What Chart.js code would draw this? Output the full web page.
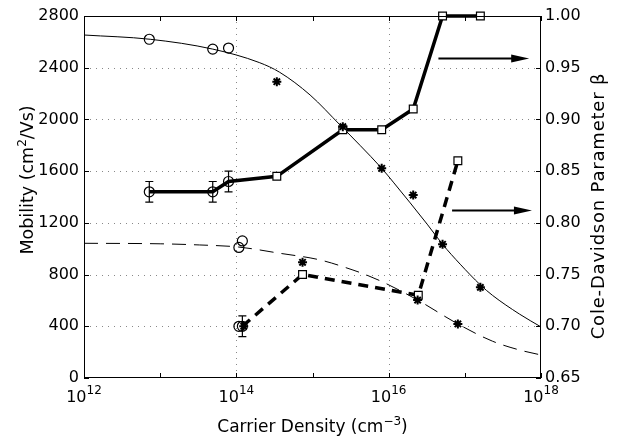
<!DOCTYPE html>
<html>
<head>
<meta charset="utf-8">
<script src="https://cdn.jsdelivr.net/npm/chart.js@4.4.1/dist/chart.umd.min.js"></script>
<style>
  html, body { margin: 0; padding: 0; background: #fff; }
</style>
</head>
<body>
<canvas id="chart" width="617" height="441"></canvas>
<script>
"use strict";

const FONT = '"DejaVu Sans", sans-serif';

// x axis: carrier density decades, labels only on even exponents
const X_DECADES = [1e12, 1e13, 1e14, 1e15, 1e16, 1e17, 1e18];
const X_LABEL_EXP = [12, 14, 16, 18];

// mobility fit curves (left axis)
const fitHighX = [1e12, 7.4e12, 4.9e13, 2.0e14, 3.7e14, 9.3e14, 2.3e15, 4.2e15, 8.1e15, 1.15e16, 3.2e16, 5.1e16, 8.7e16, 1.6e17, 2.3e17, 5.2e17, 1e18];
const fitHighY = [2653, 2620, 2544, 2440, 2365, 2189, 1957, 1800, 1622, 1515, 1190, 1034, 880, 720, 640, 495, 395];
const fitLowX = [1e12, 1e13, 3.3e13, 1.07e14, 3.7e14, 1.26e15, 3.4e15, 5.1e15, 8.9e15, 2.4e16, 8.1e16, 2.3e17, 5.2e17, 1e18];
const fitLowY = [1042, 1038, 1029, 1013, 965, 913, 835, 797, 735, 603, 418, 285, 217, 178];

// measured mobility points (left axis)
const mobCircleX = [7.2e12, 4.9e13, 7.9e13, 1.08e14, 1.2e14];
const mobCircleY = [2620, 2544, 2552, 1010, 1060];
const mobStarX = [3.4e14, 2.5e15, 8.1e15, 2.1e16, 5.1e16, 1.6e17, 1.25e14, 7.4e14, 2.4e16, 8.1e16];
const mobStarY = [2292, 1944, 1622, 1415, 1034, 701, 400, 895, 603, 418];

// Cole-Davidson beta (right axis)
const betaSolidX = [7.2e12, 4.9e13, 7.9e13, 3.4e14, 2.5e15, 8.1e15, 2.1e16, 5.1e16, 1.6e17];
const betaSolidY = [0.83, 0.83, 0.84, 0.845, 0.89, 0.89, 0.91, 1.00, 1.00];
const betaSolidErr = [0.01, 0.01, 0.01, 0, 0, 0, 0, 0, 0];
const betaDashX = [1.2e14, 7.4e14, 2.45e16, 8.1e16];
const betaDashY = [0.70, 0.75, 0.73, 0.86];
const betaDashErr = [0.01, 0, 0, 0];
const betaOpenX = [1.08e14];
const betaOpenY = [0.70];

// arrows pointing to the right axis
const arrowFromX = [4.5e16, 6.8e16];
const arrowToX = [7.0e17, 7.6e17];
const arrowBeta = [0.959, 0.812];

function pts(xs, ys) { return xs.map((x, i) => ({ x, y: ys[i] })); }

function drawRich(ctx, parts, x, y, size, supSize, rise, spacing) {
  ctx.letterSpacing = (spacing || 0) + "px";
  const widths = parts.map(([t, sup]) => {
    ctx.font = (sup ? supSize : size) + "px " + FONT;
    return ctx.measureText(t).width;
  });
  let cx = x - widths.reduce((a, b) => a + b, 0) / 2;
  ctx.textAlign = "left";
  ctx.textBaseline = "alphabetic";
  parts.forEach(([t, sup], i) => {
    ctx.font = (sup ? supSize : size) + "px " + FONT;
    ctx.fillText(t, cx, sup ? y - rise : y);
    cx += widths[i];
  });
  ctx.letterSpacing = "0px";
}

const decorPlugin = {
  id: "decor",
  beforeDatasetsDraw(chart) {
    const { ctx, chartArea: a, scales } = chart;
    ctx.save();
    ctx.strokeStyle = "#888";
    ctx.lineWidth = 1;
    ctx.setLineDash([1, 5]);
    for (const t of scales.yMob.ticks) {
      if (t.value <= 0 || t.value >= 2800) continue;
      const y = Math.round(scales.yMob.getPixelForValue(t.value)) + 0.5;
      ctx.beginPath(); ctx.moveTo(a.left, y); ctx.lineTo(a.right, y); ctx.stroke();
    }
    for (const v of [1e14, 1e16]) {
      const x = Math.round(scales.x.getPixelForValue(v)) + 0.5;
      ctx.beginPath(); ctx.moveTo(x, a.top); ctx.lineTo(x, a.bottom); ctx.stroke();
    }
    ctx.restore();
  },
  afterDatasetsDraw(chart) {
    const { ctx, chartArea: a, scales } = chart;
    const sx = scales.x, sb = scales.yBeta;
    ctx.save();
    ctx.strokeStyle = "#000";
    ctx.fillStyle = "#000";

    // error bars
    ctx.lineWidth = 1.2;
    chart.data.datasets.forEach((ds) => {
      if (!ds.errors) return;
      ds.data.forEach((p, i) => {
        const e = ds.errors[i];
        if (!e) return;
        const x = sx.getPixelForValue(p.x);
        const y1 = sb.getPixelForValue(p.y - e);
        const y2 = sb.getPixelForValue(p.y + e);
        ctx.beginPath();
        ctx.moveTo(x, y1); ctx.lineTo(x, y2);
        ctx.moveTo(x - 4, y1); ctx.lineTo(x + 4, y1);
        ctx.moveTo(x - 4, y2); ctx.lineTo(x + 4, y2);
        ctx.stroke();
      });
    });

    // arrows
    arrowBeta.forEach((b, i) => {
      const y = sb.getPixelForValue(b);
      const x1 = sx.getPixelForValue(arrowFromX[i]);
      const x2 = sx.getPixelForValue(arrowToX[i]);
      ctx.lineWidth = 2;
      ctx.beginPath(); ctx.moveTo(x1, y); ctx.lineTo(x2 - 14, y); ctx.stroke();
      ctx.beginPath();
      ctx.moveTo(x2, y); ctx.lineTo(x2 - 18, y - 4); ctx.lineTo(x2 - 18, y + 4);
      ctx.closePath(); ctx.fill();
    });

    // frame and inward ticks
    ctx.lineWidth = 1;
    ctx.strokeRect(a.left + 0.5, a.top + 0.5, a.width - 1, a.height - 1);
    ctx.beginPath();
    for (const t of scales.yMob.ticks) {
      const y = Math.round(scales.yMob.getPixelForValue(t.value)) + 0.5;
      ctx.moveTo(a.left, y); ctx.lineTo(a.left + 5, y);
    }
    for (const t of sb.ticks) {
      const y = Math.round(sb.getPixelForValue(t.value)) + 0.5;
      ctx.moveTo(a.right, y); ctx.lineTo(a.right - 5, y);
    }
    for (const v of X_DECADES) {
      const x = Math.round(sx.getPixelForValue(v)) + 0.5;
      ctx.moveTo(x, a.bottom); ctx.lineTo(x, a.bottom - 5);
      ctx.moveTo(x, a.top); ctx.lineTo(x, a.top + 5);
    }
    ctx.stroke();
    ctx.restore();
  },
  afterDraw(chart) {
    const { ctx, chartArea: a, scales } = chart;
    ctx.save();
    ctx.fillStyle = "#000";
    // x tick labels 10^n
    for (const e of X_LABEL_EXP) {
      const x = scales.x.getPixelForValue(Math.pow(10, e));
      drawRich(ctx, [["10", false], [String(e), true]], x, 402, 16, 12, 8);
    }
    // x title
    drawRich(ctx, [["Carrier Density (cm", false], ["\u22123", true], [")", false]],
      (a.left + a.right) / 2, 432, 17, 12, 7);
    // left title
    ctx.save();
    ctx.translate(33, 180);
    ctx.rotate(-Math.PI / 2);
    drawRich(ctx, [["Mobility (cm", false], ["2", true], ["/Vs)", false]], 0, 0, 17.5, 12, 7);
    ctx.restore();
    // right title
    ctx.save();
    ctx.translate(604, 206);
    ctx.rotate(-Math.PI / 2);
    drawRich(ctx, [["Cole-Davidson Parameter \u03b2", false]], 0, 0, 18, 12, 7, 0.8);
    ctx.restore();
    ctx.restore();
  },
};

const axisFont = { family: FONT, size: 16 };

new Chart(document.getElementById("chart"), {
  type: "line",
  data: {
    datasets: [
      {
        data: pts(mobStarX, mobStarY), yAxisID: "yMob", showLine: false, clip: false,
        pointStyle: "star", pointRadius: 4.5, pointBorderWidth: 2,
        pointBorderColor: "#000", pointBackgroundColor: "#000",
      },
      {
        data: pts(mobCircleX, mobCircleY), yAxisID: "yMob", showLine: false, clip: false,
        pointStyle: "circle", pointRadius: 5, pointBorderWidth: 1.2,
        pointBorderColor: "#000", pointBackgroundColor: "rgba(0,0,0,0)",
      },
      {
        data: pts(betaOpenX, betaOpenY), yAxisID: "yBeta", showLine: false, clip: false,
        pointStyle: "circle", pointRadius: 5, pointBorderWidth: 1.2,
        pointBorderColor: "#000", pointBackgroundColor: "rgba(0,0,0,0)",
      },
      {
        data: pts(betaDashX, betaDashY), yAxisID: "yBeta", errors: betaDashErr, clip: false,
        borderColor: "#000", borderWidth: 3.5, borderDash: [10, 7],
        pointStyle: ["circle", "rect", "rect", "rect"],
        pointRadius: [5, 5.5, 5.5, 5.5], pointBorderWidth: 1.2,
        pointBorderColor: "#000",
        pointBackgroundColor: ["rgba(0,0,0,0)", "#fff", "#fff", "#fff"],
      },
      {
        data: pts(betaSolidX, betaSolidY), yAxisID: "yBeta", errors: betaSolidErr, clip: false,
        borderColor: "#000", borderWidth: 3.5,
        pointStyle: betaSolidX.map((_, i) => (i < 3 ? "circle" : "rect")),
        pointRadius: betaSolidX.map((_, i) => (i < 3 ? 5 : 5.5)),
        pointBorderWidth: 1.2, pointBorderColor: "#000",
        pointBackgroundColor: betaSolidX.map((_, i) => (i < 3 ? "rgba(0,0,0,0)" : "#fff")),
      },
      {
        data: pts(fitLowX, fitLowY), yAxisID: "yMob",
        borderColor: "#000", borderWidth: 1, borderDash: [14, 8],
        pointRadius: 0, cubicInterpolationMode: "monotone",
      },
      {
        data: pts(fitHighX, fitHighY), yAxisID: "yMob",
        borderColor: "#000", borderWidth: 1,
        pointRadius: 0, cubicInterpolationMode: "monotone",
      },
    ],
  },
  options: {
    responsive: false,
    animation: false,
    layout: { padding: { top: 16, left: 0, right: 0, bottom: 0 } },
    plugins: { legend: { display: false }, tooltip: { enabled: false } },
    scales: {
      x: {
        type: "logarithmic", min: 1e12, max: 1e18,
        afterBuildTicks: (s) => { s.ticks = X_DECADES.map((v) => ({ value: v })); },
        afterFit: (s) => { s.height = 63; },
        ticks: { display: false },
        grid: { display: false, drawTicks: false },
        border: { display: false },
      },
      yMob: {
        position: "left", min: 0, max: 2800,
        afterFit: (s) => { s.width = 84; },
        ticks: { stepSize: 400, padding: 5, font: axisFont, color: "#000", callback: (v) => String(v) },
        grid: { display: false, drawTicks: false },
        border: { display: false },
      },
      yBeta: {
        position: "right", min: 0.65, max: 1.0,
        afterFit: (s) => { s.width = 76; },
        ticks: { stepSize: 0.05, padding: 4, font: axisFont, color: "#000", callback: (v) => v.toFixed(2) },
        grid: { display: false, drawTicks: false },
        border: { display: false },
      },
    },
  },
  plugins: [decorPlugin],
});
</script>
</body>
</html>
